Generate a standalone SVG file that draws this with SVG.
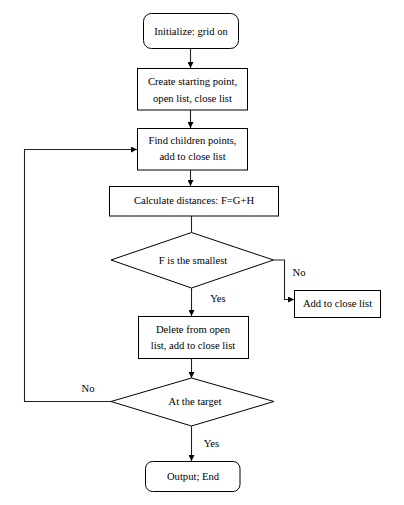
<svg xmlns="http://www.w3.org/2000/svg" width="404" height="505" viewBox="0 0 404 505">
  <style>
    .box { fill: #fff; stroke: #000; stroke-width: 1; }
    text { font-family: 'Liberation Serif', 'Times New Roman', Times, serif; font-size: 10.6px; fill: #000; text-anchor: middle; dominant-baseline: central; }
    .edge { fill: none; stroke: #222; stroke-width: 1.1; }
  </style>
  <defs>
    <marker id="arrow" viewBox="0 0 6 6" refX="6" refY="3" markerWidth="6" markerHeight="6" markerUnits="userSpaceOnUse" orient="auto">
      <path d="M0,0 L6,3 L0,6 z" fill="#000"/>
    </marker>
  </defs>

  <rect width="404" height="505" fill="#fff"/>

  <!-- connectors -->
  <g id="connectors">
    <path class="edge" d="M190.5,48.5 V68" marker-end="url(#arrow)"/>
    <path class="edge" d="M190.5,110 V128" marker-end="url(#arrow)"/>
    <path class="edge" d="M190.5,170 V186" marker-end="url(#arrow)"/>
    <path class="edge" d="M191.5,216 V232"/>
    <path class="edge" d="M273.5,260 H284.5 V299.5 H294" marker-end="url(#arrow)"/>
    <path class="edge" d="M191.5,288 V316" marker-end="url(#arrow)"/>
    <path class="edge" d="M191.5,358.5 V378" marker-end="url(#arrow)"/>
    <path class="edge" d="M111,401.5 H24.5 V149.5 H137" marker-end="url(#arrow)"/>
    <path class="edge" d="M191.5,426 V461" marker-end="url(#arrow)"/>
    <text x="299" y="272.5">No</text>
    <text x="218" y="298">Yes</text>
    <text x="88" y="388">No</text>
    <text x="211.5" y="443">Yes</text>
  </g>

  <g id="init">
    <rect class="box" x="143.5" y="13.5" width="95" height="35" rx="8"/>
    <text x="191" y="31">Initialize: grid on</text>
  </g>

  <g id="create">
    <rect class="box" x="137.5" y="68.5" width="110" height="41.5"/>
    <text x="192.5" y="81">Create starting point,</text>
    <text x="192.5" y="98">open list, close list</text>
  </g>

  <g id="find">
    <rect class="box" x="137.5" y="128.5" width="110" height="41.5"/>
    <text x="192.5" y="140.5">Find children points,</text>
    <text x="192.5" y="156.5">add to close list</text>
  </g>

  <g id="calc">
    <rect class="box" x="109.5" y="186.5" width="169" height="29.5"/>
    <text x="194" y="200.5">Calculate distances: F=G+H</text>
  </g>

  <g id="smallest">
    <polygon class="box" points="191.5,232.5 273.5,260 191.5,288 111,260"/>
    <text x="193" y="260">F is the smallest</text>
  </g>

  <g id="add-close">
    <rect class="box" x="294.5" y="290.5" width="86" height="27"/>
    <text x="337.5" y="303.5">Add to close list</text>
  </g>

  <g id="delete">
    <rect class="box" x="138.5" y="316.5" width="110" height="42"/>
    <text x="193" y="329.5">Delete from open</text>
    <text x="193" y="345">list, add to close list</text>
  </g>

  <g id="target">
    <polygon class="box" points="191.5,378 274,401.5 191.5,426 111,401.5"/>
    <text x="195" y="401.5">At the target</text>
  </g>

  <g id="output">
    <rect class="box" x="145.5" y="461.5" width="94.5" height="30" rx="7"/>
    <text x="193" y="476.5">Output; End</text>
  </g>
</svg>
